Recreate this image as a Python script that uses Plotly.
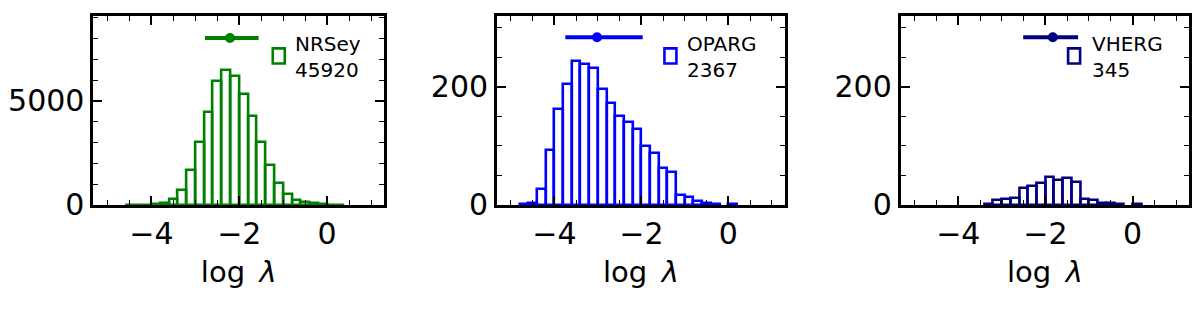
import plotly.graph_objects as go

# ---------------- data ----------------
bin_left = [-5.0, -4.8, -4.6, -4.4, -4.2, -4.0, -3.8, -3.6, -3.4, -3.2, -3.0,
            -2.8, -2.6, -2.4, -2.2, -2.0, -1.8, -1.6, -1.4, -1.2, -1.0, -0.8,
            -0.6, -0.4, -0.2, 0.0, 0.2]
bin_width = 0.2

nrsey_counts = [0, 0, 5, 8, 15, 25, 105, 260, 740, 1660, 3020, 4460, 5950, 6490,
                6220, 5350, 4280, 3020, 1900, 1050, 545, 245, 140, 85, 35, 12, 3]
oparg_counts = [0, 2, 4, 27, 93, 163, 204, 244, 238, 232, 196, 173, 150, 141,
                129, 100, 88, 63, 55, 17, 14, 6, 4, 2, 0, 1, 0]
vherg_counts = [0, 0, 0, 0, 0, 0, 0, 0, 1, 8, 10, 12, 28, 32, 37, 48, 43, 45,
                39, 10, 8, 4, 3, 2, 0, 1, 0]

names = ["NRSey", "OPARG", "VHERG"]
totals = ["45920", "2367", "345"]
colors = ["#008000", "#0000ff", "#000080"]

# median and percentile range (errorbar shown above each histogram)
med = [-2.21, -3.02, -1.83]
lo = [-2.78, -3.75, -2.51]
hi = [-1.56, -1.97, -1.25]
err_y = [8020, 284, 284]

y_max = [9080, 320, 320]
y_major = [5000, 200, 200]
y_minor = [1000, 50, 50]

x_range = [-5.32, 1.3]
x_ticks = [-4, -2, 0]

counts_all = [nrsey_counts, oparg_counts, vherg_counts]

# ---------------- layout geometry (page pixels) ----------------
OFF = 8                      # default page body margin
W, H = 1200 - 2 * OFF, 315 - 2 * OFF
x_dom = [(93.5, 384.5), (497.5, 785.5), (901.5, 1190.2)]
y_top, y_bot = 16.5, 217.5
legend_sq_x = [272, 664, 1068]
legend_tx_x = [295, 688, 1093]


def px(x):
    return (x - OFF) / W


def py(y):
    return 1 - (y - OFF) / H


fig = go.Figure()
centers = [b + bin_width / 2 for b in bin_left]

for i in range(3):
    ax = "" if i == 0 else str(i + 1)
    fig.add_trace(go.Bar(
        x=centers, y=[c if c > 0 else None for c in counts_all[i]],
        width=bin_width,
        marker=dict(color="rgba(255,255,255,0)",
                    line=dict(color=colors[i], width=2.6)),
        xaxis="x" + ax, yaxis="y" + ax, showlegend=False,
    ))
    fig.add_trace(go.Scatter(
        x=[med[i]], y=[err_y[i]], mode="markers",
        marker=dict(color=colors[i], size=10),
        error_x=dict(type="data", symmetric=False,
                     array=[hi[i] - med[i]], arrayminus=[med[i] - lo[i]],
                     width=0, thickness=4, color=colors[i]),
        xaxis="x" + ax, yaxis="y" + ax, showlegend=False,
    ))

tickfont = dict(family="DejaVu Sans", size=30, color="black")
layout = dict(
    width=W, height=H, margin=dict(l=0, r=0, t=0, b=0),
    paper_bgcolor="white", plot_bgcolor="white",
    bargap=0, showlegend=False,
)
for i in range(3):
    ax = "" if i == 0 else str(i + 1)
    common = dict(showline=True, linecolor="black", linewidth=3, mirror="allticks",
                  ticks="inside", ticklen=9, tickwidth=1.5, tickcolor="black",
                  showgrid=False, zeroline=False, tickfont=tickfont)
    layout["xaxis" + ax] = dict(
        domain=[px(x_dom[i][0]), px(x_dom[i][1])], anchor="y" + ax,
        range=x_range, tickvals=x_ticks,
        minor=dict(ticks="inside", ticklen=5, tickwidth=1.2, dtick=0.5,
                   tick0=0, tickcolor="black", showgrid=False),
        title=dict(text="log\u2002<i>λ</i>",
                   font=dict(family="DejaVu Sans", size=29, color="black"),
                   standoff=12),
        **common)
    layout["yaxis" + ax] = dict(
        domain=[py(y_bot), py(y_top)], anchor="x" + ax,
        range=[0, y_max[i]], dtick=y_major[i], tick0=0,
        minor=dict(ticks="inside", ticklen=5, tickwidth=1.2, dtick=y_minor[i],
                   tick0=0, tickcolor="black", showgrid=False),
        **common)

shapes = []
annotations = []
for i in range(3):
    shapes.append(dict(type="rect", xref="paper", yref="paper",
                       x0=px(legend_sq_x[i] + 1), x1=px(legend_sq_x[i] + 13),
                       y0=py(67), y1=py(51),
                       line=dict(color=colors[i], width=2.6),
                       fillcolor="rgba(0,0,0,0)"))
    annotations.append(dict(xref="paper", yref="paper",
                            x=px(legend_tx_x[i] - 2), y=py(31),
                            xanchor="left", yanchor="top", align="left",
                            showarrow=False,
                            text=names[i] + "<br>" + totals[i],
                            font=dict(family="DejaVu Sans", size=20, color="black")))
layout["shapes"] = shapes
layout["annotations"] = annotations

fig.update_layout(**layout)
fig.write_html("out.html", config={"displayModeBar": False})
